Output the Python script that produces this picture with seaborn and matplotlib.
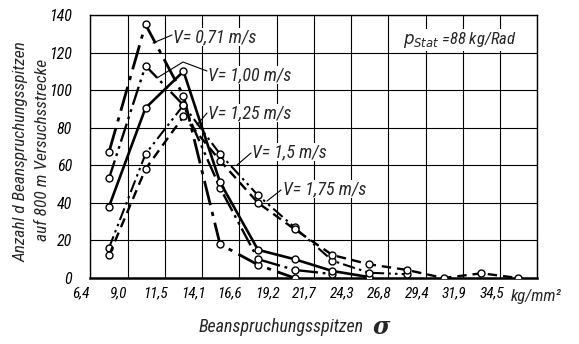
import matplotlib
matplotlib.use("Agg")
import matplotlib.pyplot as plt
from matplotlib import font_manager as fm
from matplotlib.transforms import ScaledTranslation
import seaborn as sns
import pandas as pd

# ---------------- data ----------------
x_mid = [7.7, 10.2, 12.8, 15.3, 17.9, 20.4, 23.0, 25.5, 28.1, 30.6, 33.2, 35.7]
v071 = [67, 135, 97, 18, 7, 0]
v100 = [53, 113, 92, 48, 10, 4.3, 2.1]
v125 = [38, 90.5, 110, 51, 15, 10, 3.7, 0.5]
v150 = [16, 66, 92, 66, 44, 27, 9.2, 2.8, 2.0]
v175 = [12, 58, 86, 62.5, 40, 26, 12.2, 7.3, 4.3, 0, 2.5, 0]
x_ticks = [6.4, 9.0, 11.5, 14.1, 16.6, 19.2, 21.7, 24.3, 26.8, 29.4, 31.9, 34.5]
x_ticklabels = ["6,4", "9,0", "11,5", "14,1", "16,6", "19,2", "21,7", "24,3",
                "26,8", "29,4", "31,9", "34,5"]
y_ticks = [0, 20, 40, 60, 80, 100, 120, 140]
series_names = ["V= 0,71 m/s", "V= 1,00 m/s", "V= 1,25 m/s", "V= 1,5 m/s", "V= 1,75 m/s"]

sns.set_theme(style="white")
avail = {f.name for f in fm.fontManager.ttflist}
fam = [f for f in ["Liberation Sans Narrow", "Roboto Condensed", "Open Sans Condensed"] if f in avail]
plt.rcParams["font.family"] = fam + ["DejaVu Sans"]

fig = plt.figure(figsize=(5.79, 3.44), dpi=100)
ax = fig.add_axes([90/579, 66/344, 447/579, 263/344])

styles = [
    (0, (9, 2.5, 1.5, 2.5)),          # 0.71 dash-dot
    (0, (8, 2, 1.2, 2, 1.2, 2)),      # 1.00 dash-dot-dot
    "-",                              # 1.25 solid
    (0, (6, 2, 1.2, 2, 1.2, 2)),      # 1.5 dash-dot-dot
    (0, (4, 2.5)),                    # 1.75 dashed
]
widths = [2.0, 1.7, 1.9, 1.5, 1.7]
all_vals = [v071, v100, v125, v150, v175]

for name, vals, ls, lw in zip(series_names, all_vals, styles, widths):
    df = pd.DataFrame({"x": x_mid[:len(vals)], "y": vals})
    sns.lineplot(data=df, x="x", y="y", ax=ax, color="black", linestyle=ls, lw=lw,
                 marker="o", markersize=5, markerfacecolor="white",
                 markeredgecolor="black", markeredgewidth=1.0, sort=False,
                 estimator=None, legend=False, zorder=3)

ax.set_xlim(6.4, 37.0)
ax.set_ylim(0, 140)
ax.set_xticks(x_ticks + [37.0])
ax.set_xticklabels(x_ticklabels + [""], fontsize=11, style="italic")
ax.set_yticks(y_ticks)
ax.set_yticklabels([str(v) for v in y_ticks], fontsize=11.5, style="italic")
ax.tick_params(axis="x", length=0, pad=6, colors="black")
ax.tick_params(axis="y", length=0, pad=13, colors="black")
shift = ScaledTranslation(-9/100, 0, fig.dpi_scale_trans)
for tick in ax.xaxis.get_major_ticks():
    tick.label1.set_transform(tick.label1.get_transform() + shift)
ax.grid(True, color="black", lw=0.8)
for s in ax.spines.values():
    s.set_color("black")
    s.set_linewidth(1.0)
ax.spines["bottom"].set_linewidth(1.8)
ax.set_xlabel("")
ax.set_ylabel("")

fig.text(511/579, 1 - 296/344, "kg/mm²", fontsize=12, style="italic", ha="left", va="center")
fig.text(281/579, 1 - 327/344, "Beanspruchungsspitzen", fontsize=13, style="italic",
         ha="center", va="center")
fig.text(381/579, 1 - 327/344, "σ", fontsize=17, style="italic", weight="bold",
         ha="center", va="center", family="DejaVu Serif")
fig.text(21/579, 1 - 152/344, "Anzahl d Beanspruchungsspitzen", rotation=90,
         fontsize=12.5, style="italic", ha="center", va="center")
fig.text(43/579, 1 - 150/344, "auf 800 m Versuchsstrecke", rotation=90,
         fontsize=12.5, style="italic", ha="center", va="center")

ax.text(0.955, 0.905, r"$p_{Stat}$ =88 kg/Rad", transform=ax.transAxes,
        fontsize=12, style="italic", ha="right", va="center",
        bbox=dict(facecolor="white", edgecolor="none", pad=0.5))

def px(xp, yp):
    return ax.transData.inverted().transform(fig.transFigure.transform((xp/579, 1 - yp/344)))

labels = [
    (series_names[0], (173, 37), [(153, 43), (172, 35)]),
    (series_names[1], (208, 75), [(157, 78), (183, 62), (207, 71)]),
    (series_names[2], (208, 113), [(197, 125), (207, 113)]),
    (series_names[3], (252, 152), [(237, 165), (251, 153)]),
    (series_names[4], (283, 189), [(267, 201), (281, 190)]),
]
for txt, pos, leader in labels:
    tx, ty = px(*pos)
    ax.text(tx, ty, txt, fontsize=13, style="italic", ha="left", va="center",
            zorder=5, bbox=dict(facecolor="white", edgecolor="none", pad=0.3))
    pts = [px(*p) for p in leader]
    ax.plot([p[0] for p in pts], [p[1] for p in pts], color="black", lw=0.8, zorder=4)

fig.savefig("out.png", dpi=100, facecolor="white")
